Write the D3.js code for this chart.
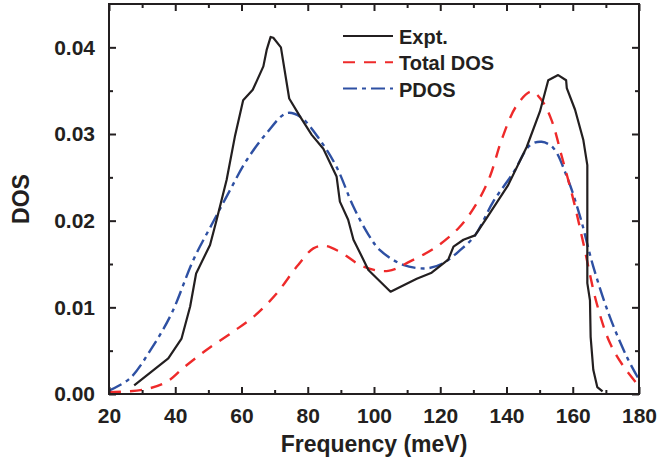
<!DOCTYPE html>
<html>
<head>
<meta charset="utf-8">
<script src="https://cdn.jsdelivr.net/npm/d3@7"></script>
<style>
  body { margin: 0; background: #fff; }
  svg text { font-family: "Liberation Sans", Arial, sans-serif; font-weight: bold; fill: #231f20; }
</style>
</head>
<body>
<div id="container"></div>
<script>
const width = 663,
  height = 463,
  margin = { top: 4, bottom: 69, left: 109, right: 24 };

// Expt. data (frequency meV, DOS)
const exptFreq = [27.6, 37.9, 41.9, 44.5, 46.3, 50.5, 52.5, 55.5, 58.0, 60.5, 63.4, 66.6, 67.6, 68.8, 69.6, 71.9, 74.4, 77.7, 81.2, 84.7, 88.7, 89.7, 92.2, 93.8, 96.8, 98.3, 105.0, 112.9, 117.4, 122.4, 124.0, 127.0, 130.5, 134.0, 140.5, 146.1, 150.1, 152.6, 155.6, 158.0, 158.2, 160.7, 163.2, 164.4, 164.4, 165.2, 165.4, 166.2, 167.4, 169.0];
const exptDos = [0.0010, 0.0041, 0.0064, 0.0101, 0.0139, 0.0172, 0.0201, 0.0247, 0.0297, 0.0339, 0.0351, 0.0378, 0.0397, 0.0412, 0.0411, 0.0400, 0.0341, 0.0320, 0.0299, 0.0283, 0.0251, 0.0222, 0.0201, 0.0178, 0.0155, 0.0143, 0.0118, 0.0133, 0.0140, 0.0155, 0.0170, 0.0178, 0.0183, 0.0203, 0.0241, 0.0285, 0.0326, 0.0362, 0.0368, 0.0362, 0.0353, 0.0328, 0.0293, 0.0264, 0.0128, 0.0108, 0.0066, 0.0028, 0.0008, 0.0003];

// Total DOS
const totalFreq = [20.0, 30.4, 37.4, 42.4, 49.5, 57.5, 63.6, 70.6, 76.7, 81.7, 85.2, 89.7, 96.8, 104.3, 110.9, 118.9, 125.9, 131.0, 135.0, 138.5, 143.1, 147.6, 150.6, 153.6, 156.7, 160.2, 163.2, 167.2, 171.2, 175.3, 179.8];
const totalDos = [0.0002, 0.0005, 0.0014, 0.0030, 0.0051, 0.0072, 0.0089, 0.0116, 0.0147, 0.0168, 0.0171, 0.0164, 0.0147, 0.0142, 0.0153, 0.0170, 0.0193, 0.0220, 0.0251, 0.0293, 0.0333, 0.0349, 0.0339, 0.0316, 0.0274, 0.0224, 0.0174, 0.0105, 0.0059, 0.0032, 0.0010];

// PDOS
const pdosFreq = [20.0, 26.3, 32.9, 38.9, 45.5, 51.5, 56.5, 61.6, 67.6, 73.6, 77.7, 83.7, 88.7, 93.8, 98.3, 101.8, 108.8, 115.9, 120.9, 126.0, 130.5, 136.0, 142.0, 147.1, 150.6, 154.1, 158.2, 162.2, 166.2, 171.2, 176.3, 179.8];
const pdosDos = [0.0004, 0.0018, 0.0053, 0.0093, 0.0155, 0.0199, 0.0235, 0.0270, 0.0301, 0.0324, 0.0320, 0.0293, 0.0262, 0.0216, 0.0184, 0.0166, 0.0149, 0.0145, 0.0151, 0.0166, 0.0183, 0.0222, 0.0255, 0.0287, 0.0291, 0.0284, 0.0251, 0.0205, 0.0147, 0.0089, 0.0043, 0.0018];

const xTicks = [20, 40, 60, 80, 100, 120, 140, 160, 180];
const yTicks = [0, 0.01, 0.02, 0.03, 0.04];
const legendLabels = ["Expt.", "Total DOS", "PDOS"];

const toPoints = (xs, ys) => xs.map((x, i) => ({ x: x, y: ys[i] }));

/* SCALES */
const xScale = d3.scaleLinear()
  .domain([20, 180])
  .range([margin.left, width - margin.right]);

const yScale = d3.scaleLinear()
  .domain([0, 0.045])
  .range([height - margin.bottom, margin.top]);

const svg = d3.select("#container")
  .append("svg")
  .attr("width", width)
  .attr("height", height);

/* CURVES */
const series = [
  { label: legendLabels[0], data: toPoints(exptFreq, exptDos), color: "#231f20", dash: null, curve: d3.curveLinear, w: 2.2 },
  { label: legendLabels[1], data: toPoints(totalFreq, totalDos), color: "#ee2a2a", dash: "12,9", curve: d3.curveCatmullRom.alpha(0.5), w: 2.4 },
  { label: legendLabels[2], data: toPoints(pdosFreq, pdosDos), color: "#2e50a3", dash: "14,5,4,5", curve: d3.curveCatmullRom.alpha(0.5), w: 2.4 }
];

series.slice().reverse().forEach(s => {
  const line = d3.line()
    .x(d => xScale(d.x))
    .y(d => yScale(d.y))
    .curve(s.curve);
  svg.append("path")
    .datum(s.data)
    .attr("d", line)
    .attr("fill", "none")
    .attr("stroke", s.color)
    .attr("stroke-width", s.w)
    .attr("stroke-dasharray", s.dash)
    .attr("stroke-linejoin", "round");
});

/* AXES */
const xMinor = d3.range(30, 180, 20);
const yMinor = [0.005, 0.015, 0.025, 0.035];

function styleAxis(g) {
  g.select(".domain").remove();
  g.selectAll("line").attr("stroke", "#231f20").attr("stroke-width", 2);
  g.selectAll("text").style("font-size", "21px").attr("fill", "#231f20");
}

// bottom
svg.append("g")
  .attr("transform", `translate(0, ${height - margin.bottom})`)
  .call(d3.axisBottom(xScale).tickValues(xTicks).tickFormat(d3.format("d")).tickSizeInner(-7).tickSizeOuter(0).tickPadding(14))
  .call(styleAxis);
svg.append("g")
  .attr("transform", `translate(0, ${height - margin.bottom})`)
  .call(d3.axisBottom(xScale).tickValues(xMinor).tickFormat("").tickSizeInner(-4).tickSizeOuter(0))
  .call(styleAxis);
// top
svg.append("g")
  .attr("transform", `translate(0, ${margin.top})`)
  .call(d3.axisTop(xScale).tickValues(xTicks).tickFormat("").tickSizeInner(-7).tickSizeOuter(0))
  .call(styleAxis);
svg.append("g")
  .attr("transform", `translate(0, ${margin.top})`)
  .call(d3.axisTop(xScale).tickValues(xMinor).tickFormat("").tickSizeInner(-4).tickSizeOuter(0))
  .call(styleAxis);
// left
svg.append("g")
  .attr("transform", `translate(${margin.left}, 0)`)
  .call(d3.axisLeft(yScale).tickValues(yTicks).tickFormat(d3.format(".2f")).tickSizeInner(-7).tickSizeOuter(0).tickPadding(14))
  .call(styleAxis);
svg.append("g")
  .attr("transform", `translate(${margin.left}, 0)`)
  .call(d3.axisLeft(yScale).tickValues(yMinor).tickFormat("").tickSizeInner(-4).tickSizeOuter(0))
  .call(styleAxis);
// right
svg.append("g")
  .attr("transform", `translate(${width - margin.right}, 0)`)
  .call(d3.axisRight(yScale).tickValues(yTicks).tickFormat("").tickSizeInner(-7).tickSizeOuter(0))
  .call(styleAxis);
svg.append("g")
  .attr("transform", `translate(${width - margin.right}, 0)`)
  .call(d3.axisRight(yScale).tickValues(yMinor).tickFormat("").tickSizeInner(-4).tickSizeOuter(0))
  .call(styleAxis);

// frame
svg.append("rect")
  .attr("x", margin.left)
  .attr("y", margin.top)
  .attr("width", width - margin.left - margin.right)
  .attr("height", height - margin.top - margin.bottom)
  .attr("fill", "none")
  .attr("stroke", "#231f20")
  .attr("stroke-width", 2);

/* TITLES */
svg.append("text")
  .attr("x", (margin.left + width - margin.right) / 2)
  .attr("y", 452)
  .attr("text-anchor", "middle")
  .style("font-size", "23px")
  .text("Frequency (meV)");

svg.append("text")
  .attr("transform", `translate(29, ${(margin.top + height - margin.bottom) / 2}) rotate(-90)`)
  .attr("text-anchor", "middle")
  .style("font-size", "23px")
  .text("DOS");

/* LEGEND */
const legend = svg.append("g").attr("transform", "translate(343, 36)");
series.forEach((s, i) => {
  const row = legend.append("g").attr("transform", `translate(0, ${i * 26.3})`);
  row.append("line")
    .attr("x1", 0).attr("x2", 50)
    .attr("y1", 0).attr("y2", 0)
    .attr("stroke", s.color)
    .attr("stroke-width", 2)
    .attr("stroke-dasharray", s.dash);
  row.append("text")
    .attr("x", 56)
    .attr("y", 8)
    .style("font-size", "20px")
    .text(s.label);
});
</script>
</body>
</html>
